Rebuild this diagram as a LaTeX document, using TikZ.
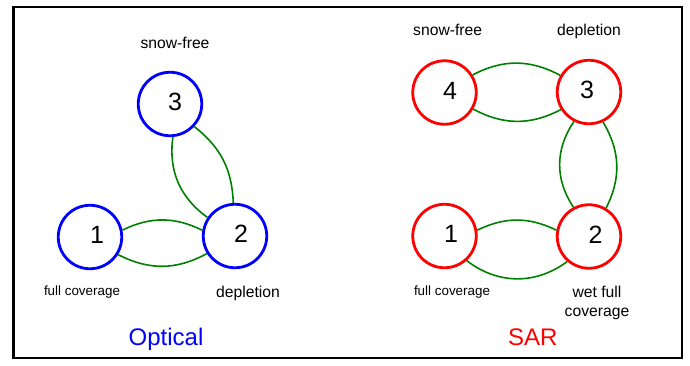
\documentclass[tikz,border=0pt]{standalone}
\usepackage{fontspec}
\setmainfont{Liberation Sans}
\definecolor{ogreen}{RGB}{0,128,0}
\begin{document}
\begin{tikzpicture}[x=1pt,y=-1pt,
  circ/.style={circle, draw, line width=2.8pt, minimum size=63.5pt, inner sep=0pt},
  ocirc/.style={circ, draw=blue},
  scirc/.style={circ, draw=red},
  digit/.style={anchor=base, inner sep=0pt, font=\fontsize{25}{30}\selectfont},
  lbl/.style={anchor=base, inner sep=0pt, font=\fontsize{15.7}{19}\selectfont},
  slbl/.style={anchor=base, inner sep=0pt, font=\fontsize{13.4}{16}\selectfont},
  ttl/.style={anchor=base, inner sep=0pt, font=\fontsize{24}{28}\selectfont},
  link/.style={draw=ogreen, line width=1.6pt}]
\useasboundingbox (0,0) rectangle (690,365);
\draw[line width=2.8pt] (13.5,7) rectangle (682,358);
% Optical
\node[ocirc] (o1) at (90,237) {};
\node[ocirc] (o2) at (235,236) {};
\node[ocirc] (o3) at (170,104) {};
\node[digit] (o1t) at (97,243.5) {1};
\node[digit] (o2t) at (241,242.5) {2};
\node[digit] (o3t) at (175,110) {3};
\draw[link] (o1.12) to[bend left=26] (o2.170);
\draw[link] (o1.-32) to[bend right=28] (o2.212);
\draw[link] (o3.-85) to[bend right=31] (o2.146);
\draw[link] (o3.-43) to[bend left=25] (o2.93);
\node[lbl] (osf) at (175,48.3) {snow-free};
\node[slbl] (ofc) at (82,295) {full coverage};
\node[lbl] (odp) at (248,297.7) {depletion};
\node[ttl, text=blue] (otitle) at (166,345) {Optical};
% SAR
\node[scirc] (s4) at (444.5,92.5) {};
\node[scirc] (s3) at (589,92) {};
\node[scirc] (s1) at (444.5,236) {};
\node[scirc] (s2) at (589,236.5) {};
\node[digit] (s4t) at (450,99) {4};
\node[digit] (s3t) at (587,98.5) {3};
\node[digit] (s1t) at (451,242.5) {1};
\node[digit] (s2t) at (595.5,243) {2};
\draw[link] (s4.32) to[bend left=28] (s3.150);
\draw[link] (s4.-30) to[bend right=28] (s3.212);
\draw[link] (s3.-117) to[bend right=34] (s2.118);
\draw[link] (s3.-65) to[bend left=29] (s2.59);
\draw[link] (s1.10) to[bend left=26] (s2.169);
\draw[link] (s1.-48) to[bend right=37] (s2.229);
\node[lbl] (ssf) at (447.7,35) {snow-free};
\node[lbl] (sdp) at (589,35) {depletion};
\node[slbl] (sfc) at (452,295) {full coverage};
\node[align=center, inner sep=0pt, font=\fontsize{15.7}{19}\selectfont] (swf) at (597,302.6) {wet full\\coverage};
\node[ttl, text=red] (stitle) at (532.7,345) {SAR};
\end{tikzpicture}
\end{document}
